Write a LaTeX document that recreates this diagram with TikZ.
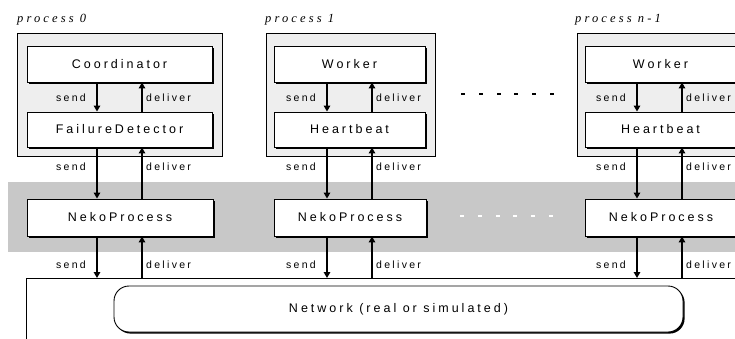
\documentclass[tikz,border=0pt]{standalone}
\usepackage{fontspec}
\setmainfont{Liberation Sans}
\newfontfamily\boxfont[LetterSpace=24]{Liberation Sans}
\newfontfamily\lblfont[LetterSpace=22]{Liberation Sans}
\newfontfamily\procfont[LetterSpace=25]{Liberation Serif}
\usetikzlibrary{arrows.meta,shadows}
\definecolor{procgray}{HTML}{EEEEEE}
\definecolor{bandgray}{HTML}{C8C8C8}
\tikzset{
  layer/.style={draw=black, fill=white, line width=0.9pt, inner sep=0pt,
    font=\boxfont\fontsize{12.5}{14}\selectfont,
    drop shadow={shadow xshift=1.6pt, shadow yshift=-1.6pt, fill=black, opacity=1}},
  procbox/.style={draw=black, fill=procgray, line width=0.8pt, inner sep=0pt},
  flow/.style={line width=2pt, -{Triangle[length=6pt,width=6.5pt]}},
  lbl/.style={font=\lblfont\fontsize{10.5}{12}\selectfont, inner sep=0pt},
  proclbl/.style={font=\procfont\itshape\fontsize{12.5}{14}\selectfont, inner sep=0pt, anchor=west}
}
\begin{document}
\begin{tikzpicture}[x=1pt,y=-1pt]
\useasboundingbox (0,0) rectangle (735,338);
\clip (0,0) rectangle (735,338);

% grey band behind the Neko layer
\fill[bandgray] (8,182) rectangle (760,252);

% process frames
\node[procbox, minimum width=205pt, minimum height=123pt] (p0) at (119.5,94.5) {};
\node[procbox, minimum width=169pt, minimum height=123pt] (p1) at (350.5,94.5) {};
\node[procbox, minimum width=169pt, minimum height=123pt] (pn) at (661.5,94.5) {};

% network area
\node[draw=black, fill=white, line width=0.8pt, inner sep=0pt,
      minimum width=730pt, minimum height=80pt, anchor=north west] (netarea) at (26,278) {};

% process titles
\node[proclbl] (t0) at (17,20) {process 0};
\node[proclbl] (t1) at (265,20) {process 1};
\node[proclbl] (tn) at (575,20) {process n-1};

% layers of process 0
\node[layer, minimum width=185pt, minimum height=36pt] (c0) at (119.5,64) {Coordinator};
\node[layer, minimum width=185pt, minimum height=35pt] (f0) at (119.5,129.5) {FailureDetector};
\node[layer, minimum width=186pt, minimum height=37pt] (n0) at (120,217.5) {NekoProcess};

% layers of process 1
\node[layer, minimum width=151pt, minimum height=36pt] (c1) at (349.5,64) {Worker};
\node[layer, minimum width=151pt, minimum height=35pt] (f1) at (349.5,129.5) {Heartbeat};
\node[layer, minimum width=152pt, minimum height=37pt] (n1) at (350,217.5) {NekoProcess};

% layers of process n-1
\node[layer, minimum width=151pt, minimum height=36pt] (cn) at (660.5,64) {Worker};
\node[layer, minimum width=151pt, minimum height=35pt] (fn) at (660.5,129.5) {Heartbeat};
\node[layer, minimum width=152pt, minimum height=37pt] (nn) at (661,217.5) {NekoProcess};

% the network itself
\node[draw=black, fill=white, line width=0.9pt, rounded corners=15pt, inner sep=0pt,
      minimum width=569pt, minimum height=46pt,
      drop shadow={shadow xshift=1.6pt, shadow yshift=-1.6pt, fill=black, opacity=1},
      font=\boxfont\fontsize{12.5}{14}\selectfont] (net) at (398.5,309) {Network (real or simulated)};

% arrow columns
\coordinate (s0) at (97,0);  \coordinate (d0) at (142,0);
\coordinate (s1) at (327,0); \coordinate (d1) at (372,0);
\coordinate (sn) at (637,0); \coordinate (dn) at (682,0);

\foreach \p in {0,1,n}{
  \draw[flow] (c\p.south -| s\p) -- (f\p.north -| s\p);
  \draw[flow] (f\p.north -| d\p) -- (c\p.south -| d\p);
  \draw[flow] (f\p.south -| s\p) -- (n\p.north -| s\p);
  \draw[flow] (n\p.north -| d\p) -- (f\p.south -| d\p);
  \draw[flow] (n\p.south -| s\p) -- (netarea.north -| s\p);
  \draw[flow] (netarea.north -| d\p) -- (n\p.south -| d\p);
}

% send / deliver labels
\foreach \p in {0,1,n}{
  \foreach \yy in {98,167,265}{
    \node[lbl, anchor=east] at ([xshift=-11pt]s\p |- 0,\yy) {send};
    \node[lbl, anchor=west] at ([xshift=4pt]d\p |- 0,\yy) {deliver};
  }
}

% ellipsis between the processes
\foreach \i in {0,...,5}{
  \fill[black] (461+17.8*\i,92.8) rectangle ++(4,2.6);
  \fill[white] (460+17.8*\i,214.8) rectangle ++(4,2.6);
}
\end{tikzpicture}
\end{document}
